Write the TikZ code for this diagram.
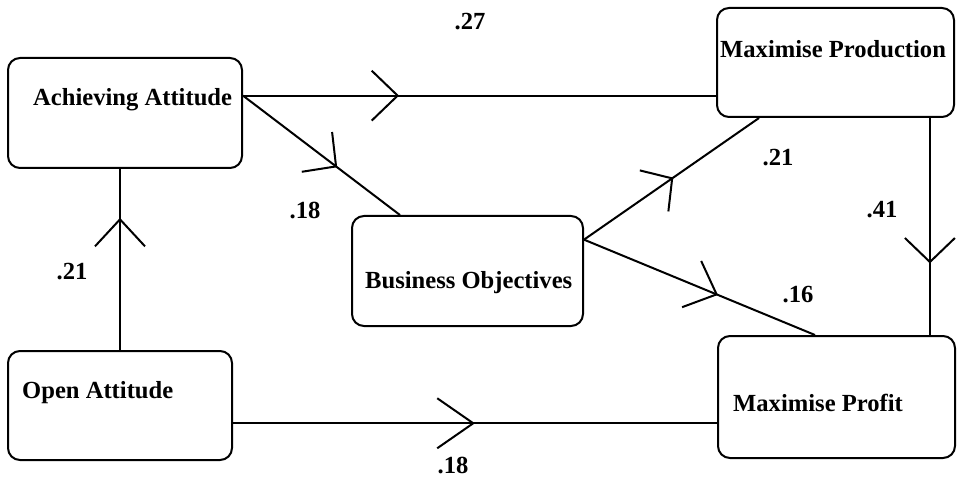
\documentclass[tikz,border=0pt]{standalone}
\usepackage{fontspec}
\setmainfont{Liberation Serif}
\usetikzlibrary{arrows.meta,decorations.markings,calc}

\tikzset{
  box/.style={draw, line width=2pt, rounded corners=12pt, minimum width=#1, inner sep=0pt},
  boxtext/.style={anchor=west, inner sep=0pt, font=\bfseries\fontsize{24.6}{28}\selectfont},
  coef/.style={inner sep=0pt, font=\bfseries\fontsize{24.6}{28}\selectfont},
  link/.style={line width=2pt},
  midarrow/.style 2 args={postaction={decorate}, decoration={markings,
      mark=at position #1 with {\arrow[line width=2pt]{Straight Barb[length=#2,width=50pt]}}}}
}

\begin{document}
\begin{tikzpicture}[x=1pt,y=-1pt]
  \useasboundingbox (0,0) rectangle (957,478);

  % the five boxes
  \node[box=234pt, minimum height=110pt] (ach) at (125,113) {};
  \node[box=237pt, minimum height=109pt] (mpd) at (835.5,62.5) {};
  \node[box=231pt, minimum height=110pt] (bo)  at (467.5,271) {};
  \node[box=237pt, minimum height=122pt] (mpf) at (836.5,397) {};
  \node[box=224pt, minimum height=109pt] (oa)  at (120,405.5) {};

  % box captions
  \node[boxtext] (achT) at (33,100)  {Achieving Attitude};
  \node[boxtext] (mpdT) at (720,49)  {Maximise Production};
  \node[boxtext] (boT)  at (365,283) {Business Objectives};
  \node[boxtext] (mpfT) at (733,403) {Maximise Profit};
  \node[boxtext] (oaT)  at (22,393)  {Open Attitude};

  % attachment points on the box borders
  \coordinate (achR) at ($(ach.north east)!0.345!(ach.south east)$);
  \coordinate (boTop) at ($(bo.north west)!0.21!(bo.north east)$);
  \coordinate (boR) at ($(bo.north east)!0.22!(bo.south east)$);
  \coordinate (mpdB1) at ($(mpd.south west)!0.18!(mpd.south east)$);
  \coordinate (mpdB2) at ($(mpd.south west)!0.895!(mpd.south east)$);
  \coordinate (mpfT1) at ($(mpf.north west)!0.41!(mpf.north east)$);
  \coordinate (oaR) at ($(oa.north east)!0.66!(oa.south east)$);

  % paths
  \draw[link, midarrow={0.33}{26pt}] (achR) -- (mpd.west |- achR);
  \draw[link, midarrow={0.6}{24pt}] (achR) -- (boTop);
  \draw[link, midarrow={0.73}{27pt}] (oa.north) -- (oa.north |- ach.south);
  \draw[link, midarrow={0.5}{36pt}] (oaR) -- (mpf.west |- oaR);
  \draw[link, midarrow={0.51}{22pt}] (boR) -- (mpdB1);
  \draw[link, midarrow={0.58}{27pt}] (boR) -- (mpfT1);
  \draw[link, midarrow={0.67}{24pt}] (mpdB2) -- (mpdB2 |- mpf.north);

  % path coefficients
  \node[coef] (c1) at (470,22)  {.27};
  \node[coef] (c2) at (305,210) {.18};
  \node[coef] (c3) at (72,272)  {.21};
  \node[coef] (c4) at (778,158) {.21};
  \node[coef] (c5) at (882,210) {.41};
  \node[coef] (c6) at (798,295) {.16};
  \node[coef] (c7) at (453,465) {.18};
\end{tikzpicture}
\end{document}
